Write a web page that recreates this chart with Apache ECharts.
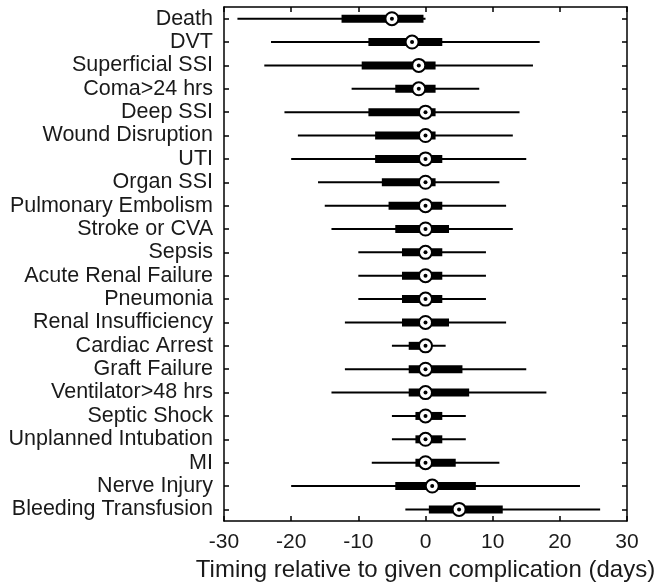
<!DOCTYPE html>
<html><head><meta charset="utf-8">
<script src="https://cdn.jsdelivr.net/npm/echarts@6/dist/echarts.min.js"></script>
<style>html,body{margin:0;padding:0;background:#fff}#c{width:663px;height:587px}</style>
</head><body><div id="c"></div>
<script>
var categories = ["Death","DVT","Superficial SSI","Coma>24 hrs","Deep SSI","Wound Disruption","UTI","Organ SSI","Pulmonary Embolism","Stroke or CVA","Sepsis","Acute Renal Failure","Pneumonia","Renal Insufficiency","Cardiac Arrest","Graft Failure","Ventilator>48 hrs","Septic Shock","Unplanned Intubation","MI","Nerve Injury","Bleeding Transfusion"];
var whiskerLow = [-28,-23,-24,-11,-21,-19,-20,-16,-15,-14,-10,-10,-10,-12,-5,-12,-14,-5,-5,-8,-20,-3];
var q1 =        [-12.5,-8.5,-9.5,-4.5,-8.5,-7.5,-7.5,-6.5,-5.5,-4.5,-3.5,-3.5,-3.5,-3.5,-2.5,-2.5,-2.5,-1.5,-1.5,-1.5,-4.5,0.5];
var median =    [-5,-2,-1,-1,0,0,0,0,0,0,0,0,0,0,0,0,0,0,0,0,1,5];
var q3 =        [-0.3,2.5,1.5,1.5,1.5,1.5,2.5,1.5,2.5,3.5,2.5,2.5,2.5,3.5,0,5.5,6.5,2.5,2.5,4.5,7.5,11.5];
var whiskerHigh = [0,17,16,8,14,13,15,11,12,13,9,9,9,12,3,15,18,6,6,11,23,26];
var xTicks = [-30,-20,-10,0,10,20,30];

var data = categories.map(function(c,i){return [i, whiskerLow[i], q1[i], median[i], q3[i], whiskerHigh[i]];});
var chart = echarts.init(document.getElementById('c'));
var font = '"Liberation Sans", Arial, Helvetica, sans-serif';
var axLine = {show:true,onZero:false,lineStyle:{color:'#000',width:1.5}};
var axTick = {show:true,inside:true,length:5,lineStyle:{color:'#000',width:1.5}};
chart.setOption({
  animation:false,
  grid:{left:224,right:36,top:7,bottom:65},
  xAxis:[{type:'value',min:xTicks[0],max:xTicks[xTicks.length-1],interval:10,position:'bottom',
    name:'Timing relative to given complication (days)',nameLocation:'middle',nameGap:33,
    nameTextStyle:{fontSize:24,color:'#1a1a1a',fontFamily:font},
    axisLine:axLine,axisTick:axTick,
    axisLabel:{fontSize:21,color:'#1a1a1a',fontFamily:font,margin:11},
    splitLine:{show:false}},
    {type:'value',min:xTicks[0],max:xTicks[xTicks.length-1],interval:10,position:'top',
    axisLine:axLine,axisTick:axTick,axisLabel:{show:false},splitLine:{show:false}}],
  yAxis:[{type:'category',data:categories,inverse:true,position:'left',
    axisLine:axLine,
    axisTick:{show:true,inside:true,length:5,alignWithLabel:true,lineStyle:{color:'#000',width:1.5}},
    axisLabel:{interval:0,fontSize:21.5,color:'#1a1a1a',fontFamily:font,margin:11}},
    {type:'category',data:categories,inverse:true,position:'right',
    axisLine:axLine,
    axisTick:{show:true,inside:true,length:5,alignWithLabel:true,lineStyle:{color:'#000',width:1.5}},
    axisLabel:{show:false}}],
  series:[{type:'custom',xAxisIndex:0,yAxisIndex:0,data:data,
    encode:{x:[1,2,3,4,5],y:0},
    renderItem:function(params,api){
      var yi=api.value(0);
      var pLo=api.coord([api.value(1),yi]);
      var pQ1=api.coord([api.value(2),yi]);
      var pMed=api.coord([api.value(3),yi]);
      var pQ3=api.coord([api.value(4),yi]);
      var pHi=api.coord([api.value(5),yi]);
      var y=pMed[1];
      return {type:'group',children:[
        {type:'line',shape:{x1:pLo[0],y1:y,x2:pHi[0],y2:y},style:{stroke:'#000',lineWidth:2}},
        {type:'rect',shape:{x:pQ1[0],y:y-4,width:pQ3[0]-pQ1[0],height:8},style:{fill:'#000'}},
        {type:'circle',shape:{cx:pMed[0],cy:y,r:6.5},style:{fill:'#fff',stroke:'#000',lineWidth:2}},
        {type:'circle',shape:{cx:pMed[0],cy:y,r:2},style:{fill:'#000'}}
      ]};
    }}]
});
</script></body></html>
